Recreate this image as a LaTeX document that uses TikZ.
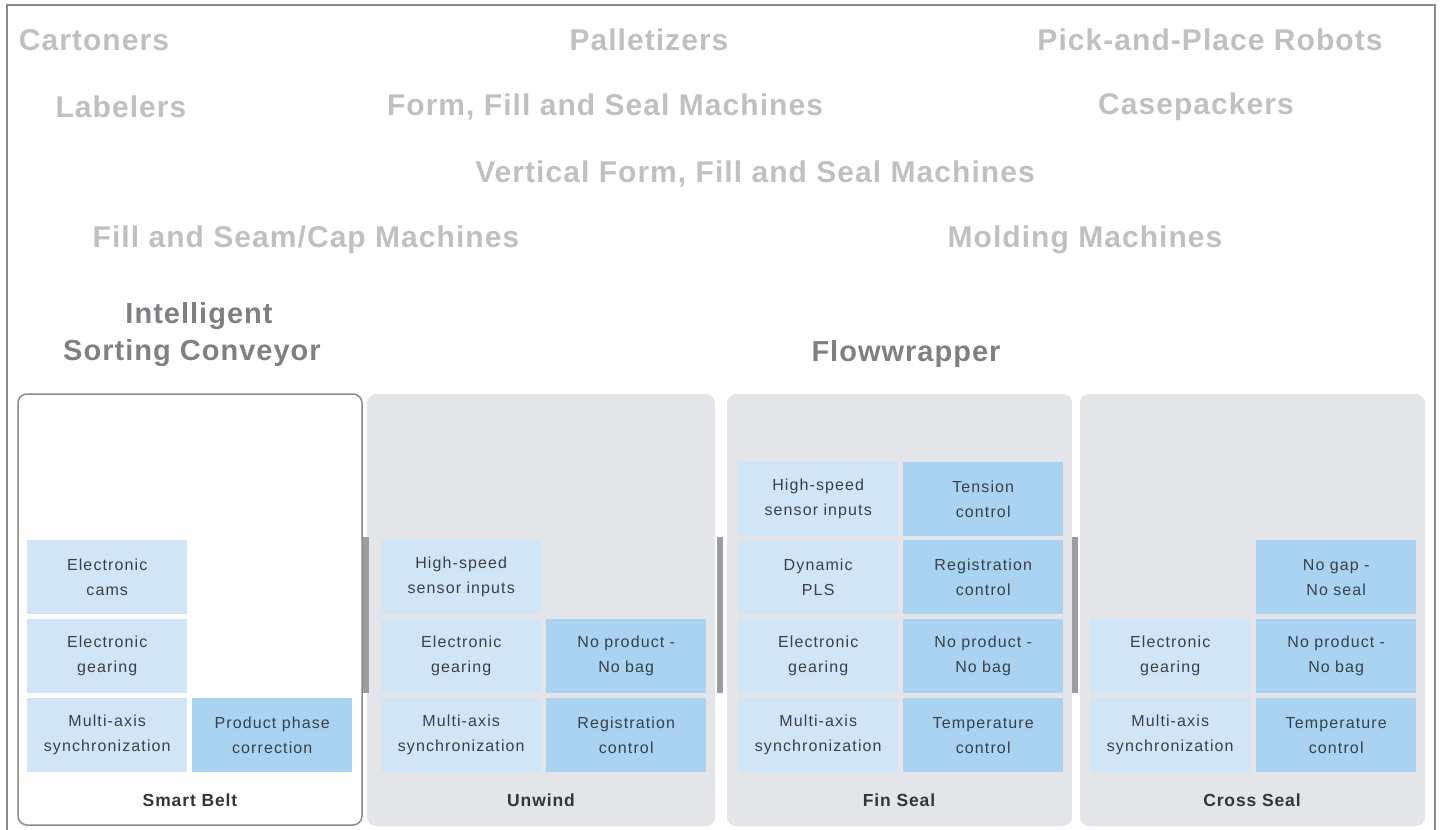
\documentclass[tikz,border=0pt]{standalone}
\usepackage{fontspec}
\setmainfont{Liberation Sans}
\newfontfamily\cellfont[LetterSpace=7]{Liberation Sans}
\newfontfamily\hdrfont[LetterSpace=3.5]{Liberation Sans}
\newfontfamily\subfont[LetterSpace=3.5]{Liberation Sans}
\newfontfamily\titlefont[LetterSpace=5]{Liberation Sans}
\definecolor{hdr}{HTML}{BEC0C2}
\definecolor{sub}{HTML}{7E8083}
\definecolor{panelgray}{HTML}{E3E5E8}
\definecolor{lightcell}{HTML}{D2E5F6}
\definecolor{darkcell}{HTML}{AAD3F2}
\definecolor{celltext}{HTML}{3A4048}
\definecolor{framegray}{HTML}{8A8A8A}
\definecolor{bargray}{HTML}{9B9D9F}
\definecolor{labeltext}{HTML}{333538}
\begin{document}
\begin{tikzpicture}[x=1pt,y=-1pt,
  hdrtext/.style={text=hdr, font=\hdrfont\bfseries\fontsize{30}{34}\selectfont, inner sep=0pt},
  subtext/.style={text=sub, font=\subfont\bfseries\fontsize{29}{37}\selectfont, inner sep=0pt, align=center},
  panelbox/.style={fill=panelgray, rounded corners=9pt},
  cellbox/.style={inner sep=0pt, minimum height=74pt, minimum width=160pt, text width=160pt,
     align=center, anchor=north west, text=celltext,
     font=\cellfont\fontsize{16}{25}\selectfont},
  lcell/.style={cellbox, fill=lightcell},
  rcell/.style={cellbox, fill=darkcell},
  paneltitle/.style={text=labeltext, font=\titlefont\bfseries\fontsize{17.5}{20}\selectfont, inner sep=0pt},
  linkbar/.style={draw=bargray, line width=6pt}
]
\useasboundingbox (0,0) rectangle (1441,830);
% outer frame
\draw[framegray, line width=2pt] (7,830) -- (7,5) -- (1435,5) -- (1435,830);

% header texts
\node[hdrtext] (cart) at (94,40) {Cartoners};
\node[hdrtext] (pall) at (649,40) {Palletizers};
\node[hdrtext] (pick) at (1210,40) {Pick-and-Place Robots};
\node[hdrtext] (lab) at (121,107) {Labelers};
\node[hdrtext] (ffs) at (605,107) {Form, Fill and Seal Machines};
\node[hdrtext] (case) at (1196,107) {Casepackers};
\node[hdrtext] (vffs) at (755,174) {Vertical Form, Fill and Seal Machines};
\node[hdrtext] (fsc) at (306,240) {Fill and Seam/Cap Machines};
\node[hdrtext] (mold) at (1085,240) {Molding Machines};

\node[subtext] (isc) at (192,335) {\hspace*{14pt}Intelligent\\Sorting Conveyor};
\node[subtext] (flow) at (906,354) {Flowwrapper};

% panels
\draw[framegray, line width=1.5pt, fill=white, rounded corners=9pt] (18,394) rectangle (362,825);
\fill[panelbox] (367,394) rectangle (715,826);
\fill[panelbox] (727,394) rectangle (1072,826);
\fill[panelbox] (1080,394) rectangle (1425,826);

% link bars between panels
\coordinate (b1t) at (366,537); \coordinate (b1b) at (366,693);
\coordinate (b2t) at (720,537); \coordinate (b2b) at (720,693);
\coordinate (b3t) at (1075,537); \coordinate (b3b) at (1075,693);
\draw[linkbar] (b1t) -- (b1b);
\draw[linkbar] (b2t) -- (b2b);
\draw[linkbar] (b3t) -- (b3b);

% Smart Belt
\node[lcell] (sb1) at (27,540) {Electronic\\cams};
\node[lcell] (sb2) at (27,619) {Electronic\\gearing};
\node[lcell] (sb3) at (27,698) {Multi-axis\\synchronization};
\node[rcell] (sb4) at (192,698) {Product phase\\correction};
\node[paneltitle] (sbt) at (190,800) {Smart Belt};

% Unwind
\node[lcell] (uw1) at (381,540) {High-speed\\sensor inputs};
\node[lcell] (uw2) at (381,619) {Electronic\\gearing};
\node[lcell] (uw3) at (381,698) {Multi-axis\\synchronization};
\node[rcell] (uw4) at (546,619) {No product -\\No bag};
\node[rcell] (uw5) at (546,698) {Registration\\control};
\node[paneltitle] (uwt) at (541,800) {Unwind};

% Fin Seal
\node[lcell] (fs1) at (738,462) {High-speed\\sensor inputs};
\node[lcell] (fs2) at (738,540) {Dynamic\\PLS};
\node[lcell] (fs3) at (738,619) {Electronic\\gearing};
\node[lcell] (fs4) at (738,698) {Multi-axis\\synchronization};
\node[rcell] (fs5) at (903,462) {Tension\\control};
\node[rcell] (fs6) at (903,540) {Registration\\control};
\node[rcell] (fs7) at (903,619) {No product -\\No bag};
\node[rcell] (fs8) at (903,698) {Temperature\\control};
\node[paneltitle] (fst) at (899,800) {Fin Seal};

% Cross Seal
\node[lcell] (cs1) at (1090,619) {Electronic\\gearing};
\node[lcell] (cs2) at (1090,698) {Multi-axis\\synchronization};
\node[rcell] (cs3) at (1256,540) {No gap -\\No seal};
\node[rcell] (cs4) at (1256,619) {No product -\\No bag};
\node[rcell] (cs5) at (1256,698) {Temperature\\control};
\node[paneltitle] (cst) at (1252,800) {Cross Seal};
\end{tikzpicture}
\end{document}
